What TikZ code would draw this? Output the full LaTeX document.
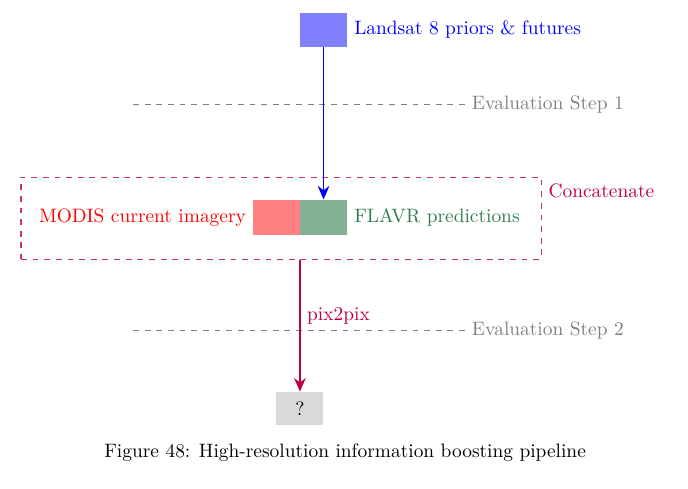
\documentclass[tikz,border=0pt]{standalone}
\usetikzlibrary{positioning,arrows.meta}
\definecolor{flavrgreen}{RGB}{46,125,80}
\begin{document}
\begin{tikzpicture}[
  imgbox/.style={minimum width=0.85cm,minimum height=0.62cm,inner sep=0pt},
  evalline/.style={gray,semithick,dashed},
  flow/.style={thick,-{Stealth[length=7pt,width=6pt]}}]
\useasboundingbox (0,0) rectangle (12.46,8.84);

%INPUTS
% landsat
\node[imgbox,fill=blue!50] (landsat) at (5.86,8.30) {};
\node[blue,right=0pt of landsat] (landsatlabel) {Landsat 8 priors \& futures};

% modis and flavr
\node[imgbox,fill=red!50,minimum height=0.64cm] (modis) at (5.01,4.90) {};
\node[imgbox,fill=flavrgreen!60,minimum height=0.64cm] (flavr) at (5.86,4.90) {};
\node[red,left=0pt of modis] (modislabel) {MODIS current imagery};
\node[flavrgreen,right=0pt of flavr] (flavrlabel) {FLAVR predictions};

%CONCATENATION
\node[draw=purple!80,semithick,dashed,minimum width=9.42cm,minimum height=1.485cm] (concat) at (5.09,4.89) {};
\node[purple,anchor=north west] (concatlabel) at (concat.north east) {Concatenate};

%EVALUATION
\coordinate (evalA) at (2.41,6.95);
\coordinate (evalB) at (8.42,6.95);
\draw[evalline] (evalA) -- (evalB) node[gray,right] (evalone) {Evaluation Step 1};
\coordinate (evalC) at (2.41,2.86);
\coordinate (evalD) at (8.42,2.86);
\draw[evalline] (evalC) -- (evalD) node[gray,right] (evaltwo) {Evaluation Step 2};

%OUTPUT
\node[imgbox,fill=gray!30,minimum height=0.6cm] (output) at (5.432,1.44) {?};

%ARROWS
\draw[flow,blue] (landsat) -- (flavr);
\draw[flow,purple] (output.north |- concat.south) -- node[right,pos=0.43] (pixlabel) {pix2pix} (output);

%CAPTION
\node (caption) at (6.25,0.65) {Figure 48: High-resolution information boosting pipeline};

\end{tikzpicture}
\end{document}
